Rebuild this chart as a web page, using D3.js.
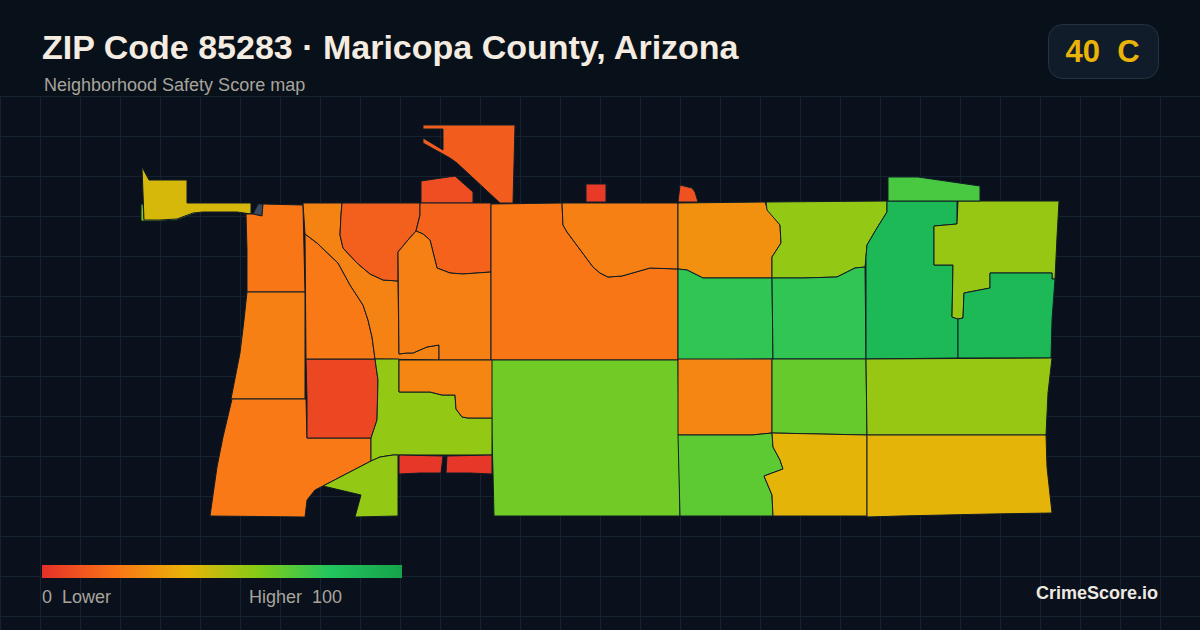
<!DOCTYPE html>
<html>
<head>
<meta charset="utf-8">
<script src="https://cdn.jsdelivr.net/npm/d3@7"></script>
<style>
  html, body { margin: 0; padding: 0; background: #0a111c; }
  svg { display: block; }
  text { font-family: "Liberation Sans", Arial, sans-serif; white-space: pre; }
</style>
</head>
<body>
<svg id="chart" width="1200" height="630"></svg>
<script>
const titleText = 'ZIP Code 85283 \u00b7 Maricopa County, Arizona';
const subtitleText = 'Neighborhood Safety Score map';
const badgeText = '40  C';
const brandText = 'CrimeScore.io';
const legendLow = '0  Lower';
const legendHigh = 'Higher  100';

// colour ramp of the score legend
const rampStops = [0, 20, 40, 60, 80, 100];
const rampColors = ['#e5302a', '#f97316', '#eab308', '#84cc16', '#22c55e', '#16a34a'];

// scores read from the fill colours, null = no data
const tractScores = [
  60, 44, null, 13, 9, 21, 24, 22, 7, 22, 25, 14, 15, 24, 21, 24, 29, 57, 77, 77,
  87, 56, 87, 72, 64, 26, 68, 66, 56, 41, 41, 57, 26, 57, 2, 2, 3, 10
];

// tract outlines, in map units (x east, y south)
const tractRings = [
  [[1,84],[3,84],[4,99],[20,99],[37,98],[53,92],[65,91],[53,94],[37,100],[20,101],[1,101]],
  [[2,47],[9,60],[47,60],[47,83],[80,83],[111,83],[111,94],[97,92],[63,92],[53,93],[37,99],[20,100],[4,100]],
  [[118,84],[123,84],[122,96],[113,94]],
  [[283,5],[375,5],[373,83],[360,83],[317,43],[310,38],[283,23],[283,18],[303,30],[303,9],[283,9]],
  [[281,61],[315,56],[333,72],[333,83],[281,83]],
  [[106,94],[113,94],[122,96],[123,84],[163,85],[165,172],[107,172],[107,130]],
  [[107,172],[165,172],[165,279],[91,279],[100,233],[104,200]],
  [[92,279],[166,279],[167,318],[231,318],[231,341],[183,366],[175,370],[167,380],[165,397],[70,396],[77,347],[83,317]],
  [[166,239],[235,239],[238,260],[237,300],[231,318],[167,318],[167,279]],
  [[165,114],[177,123],[198,143],[210,165],[223,185],[228,200],[232,217],[235,239],[166,239]],
  [[163,83],[202,83],[201,95],[200,115],[203,128],[217,143],[230,154],[243,160],[258,161],[259,234],[267,233],[273,233],[287,227],[299,225],[299,240],[235,239],[232,217],[228,200],[223,185],[210,165],[198,143],[177,123],[165,114]],
  [[202,83],[280,83],[280,95],[276,111],[268,120],[258,132],[258,161],[243,160],[230,154],[217,143],[203,128],[200,115],[201,95]],
  [[280,83],[351,83],[351,152],[323,154],[310,153],[297,148],[293,132],[290,120],[283,114],[276,111],[280,95]],
  [[258,132],[268,120],[276,111],[283,114],[290,120],[293,132],[297,148],[310,153],[323,154],[351,152],[351,240],[299,240],[299,225],[287,227],[273,233],[267,233],[259,234]],
  [[351,84],[422,83],[423,105],[427,112],[453,147],[460,153],[468,157],[482,156],[510,148],[538,149],[538,240],[351,240]],
  [[422,83],[538,83],[538,149],[510,148],[482,156],[468,157],[460,153],[453,147],[427,112],[423,105]],
  [[538,83],[625,82],[627,88],[640,105],[641,123],[632,137],[632,158],[563,158],[547,150],[538,149]],
  [[626,82],[747,81],[747,92],[737,108],[727,125],[726,137],[725,147],[715,148],[697,157],[663,158],[632,158],[632,137],[641,123],[640,105],[627,90]],
  [[538,149],[547,150],[563,158],[632,158],[633,239],[538,240]],
  [[632,158],[663,158],[697,157],[715,148],[725,147],[726,239],[633,239]],
  [[747,81],[817,81],[817,104],[794,106],[794,145],[813,145],[812,197],[818,199],[818,238],[726,239],[726,137],[727,125],[737,108],[747,92]],
  [[818,81],[919,81],[917,117],[915,159],[912,159],[912,153],[850,153],[850,168],[824,173],[823,198],[818,199],[812,197],[813,145],[794,145],[794,106],[817,104]],
  [[824,173],[850,168],[850,153],[912,153],[912,159],[915,159],[912,200],[911,238],[818,238],[818,199],[823,198]],
  [[748,57],[778,57],[840,66],[840,81],[748,81]],
  [[351,240],[538,240],[539,315],[540,396],[354,396],[353,353],[352,317]],
  [[538,239],[632,239],[632,313],[612,315],[538,315]],
  [[538,315],[612,315],[632,313],[633,327],[640,340],[643,349],[624,356],[632,375],[633,396],[540,396]],
  [[632,239],[726,239],[727,315],[632,313]],
  [[726,239],[912,238],[908,273],[906,315],[727,315]],
  [[632,313],[727,315],[727,396],[633,396],[632,375],[624,356],[643,349],[640,340],[633,327]],
  [[727,315],[906,315],[907,347],[912,393],[850,394],[760,396],[727,397]],
  [[235,239],[259,239],[259,272],[273,272],[290,272],[302,275],[315,275],[316,289],[322,297],[328,298],[352,298],[352,335],[253,335],[240,337],[231,341],[231,318],[237,300],[238,260]],
  [[259,240],[352,240],[352,298],[328,298],[322,297],[316,289],[315,275],[302,275],[290,272],[273,272],[259,272]],
  [[231,341],[240,337],[253,335],[258,335],[258,396],[215,397],[221,375],[183,366]],
  [[259,335],[303,336],[301,353],[280,353],[259,354]],
  [[307,336],[352,335],[352,354],[330,353],[306,353]],
  [[446,64],[466,64],[466,82],[446,82]],
  [[540,65],[552,68],[555,72],[558,82],[538,82]]
];

const svg = d3.select('#chart');

const xScale = d3.scaleLinear().domain([0, 920]).range([140, 1060]);
const yScale = d3.scaleLinear().domain([0, 400]).range([120, 520]);
const colorScale = d3.scaleLinear().domain(rampStops).range(rampColors);
const legendScale = d3.scaleLinear().domain([0, 100]).range([42, 402]);

svg.append('rect')
  .attr('width', 1200)
  .attr('height', 630)
  .attr('fill', '#0a111c');

svg.append('rect')
  .attr('width', 1200)
  .attr('height', 96)
  .attr('fill', '#08101a');

// background grid
const grid = svg.append('g').attr('stroke', '#152230').attr('stroke-width', 1);
grid.selectAll('line.v')
  .data(d3.range(0, 1200, 40))
  .join('line')
  .attr('class', 'v')
  .attr('x1', d => d + 0.5)
  .attr('x2', d => d + 0.5)
  .attr('y1', 96)
  .attr('y2', 630);
grid.selectAll('line.h')
  .data(d3.range(96, 630, 40))
  .join('line')
  .attr('class', 'h')
  .attr('x1', 0)
  .attr('x2', 1200)
  .attr('y1', d => d + 0.5)
  .attr('y2', d => d + 0.5);

// tracts
const line = d3.line()
  .x(d => xScale(d[0]))
  .y(d => yScale(d[1]))
  .curve(d3.curveLinearClosed);

svg.append('g')
  .selectAll('path')
  .data(tractRings)
  .join('path')
  .attr('d', line)
  .attr('fill', (d, i) => tractScores[i] === null ? '#3b4a5e' : colorScale(tractScores[i]))
  .attr('stroke', '#0f1c26')
  .attr('stroke-width', 1)
  .attr('stroke-linejoin', 'round');

// header
svg.append('text')
  .attr('x', 42)
  .attr('y', 59)
  .attr('font-size', 34)
  .attr('font-weight', 700)
  .attr('fill', '#f4ece0')
  .text(titleText);

svg.append('text')
  .attr('x', 44)
  .attr('y', 91)
  .attr('font-size', 18)
  .attr('fill', '#a8a49c')
  .text(subtitleText);

svg.append('rect')
  .attr('x', 1048.5)
  .attr('y', 24.5)
  .attr('width', 110)
  .attr('height', 54)
  .attr('rx', 14)
  .attr('fill', '#111c2a')
  .attr('stroke', '#263241');

svg.append('text')
  .attr('x', 1102.5)
  .attr('y', 62)
  .attr('text-anchor', 'middle')
  .attr('font-size', 31)
  .attr('font-weight', 700)
  .attr('fill', '#eab308')
  .text(badgeText);

// legend
const gradient = svg.append('defs')
  .append('linearGradient')
  .attr('id', 'legend-ramp');
gradient.selectAll('stop')
  .data(rampStops)
  .join('stop')
  .attr('offset', d => d + '%')
  .attr('stop-color', d => colorScale(d));

svg.append('rect')
  .attr('x', legendScale(0))
  .attr('y', 565)
  .attr('width', legendScale(100) - legendScale(0))
  .attr('height', 13)
  .attr('fill', 'url(#legend-ramp)');

svg.append('text')
  .attr('x', 42)
  .attr('y', 603)
  .attr('font-size', 18)
  .attr('fill', '#a8a49c')
  .text(legendLow);

svg.append('text')
  .attr('x', 342)
  .attr('y', 603)
  .attr('text-anchor', 'end')
  .attr('font-size', 18)
  .attr('fill', '#a8a49c')
  .text(legendHigh);

svg.append('text')
  .attr('x', 1158)
  .attr('y', 599)
  .attr('text-anchor', 'end')
  .attr('font-size', 18)
  .attr('font-weight', 700)
  .attr('fill', '#eeeae2')
  .text(brandText);
</script>
</body>
</html>
